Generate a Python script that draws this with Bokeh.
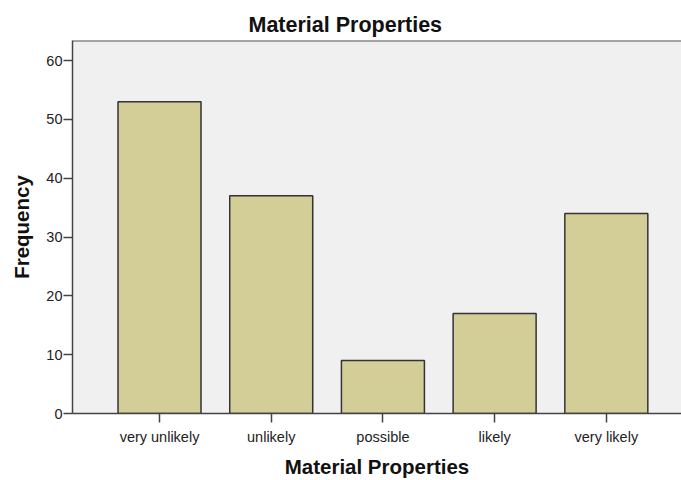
from bokeh.plotting import figure
from bokeh.models import FixedTicker, Range1d, ColumnDataSource, Span
from bokeh.embed import file_html
from bokeh.resources import INLINE

categories = ["very unlikely", "unlikely", "possible", "likely", "very likely"]
frequencies = [53, 37, 9, 17, 34]
y_ticks = [0, 10, 20, 30, 40, 50, 60]
y_max = 63.4

positions = list(range(len(categories)))
src = ColumnDataSource(data=dict(x=positions, top=frequencies))

p = figure(width=681, height=480, output_backend="svg", toolbar_location=None,
           x_range=Range1d(-0.779, 4.673), y_range=Range1d(0, y_max),
           min_border_left=72, min_border_top=40, min_border_bottom=66, min_border_right=0)

p.title.text = "Material Properties"
p.title.text_font = "Liberation Sans"
p.title.text_font_size = "21.5px"
p.title.text_font_style = "bold"
p.title.text_color = "#111111"
p.title.align = "left"
p.title.offset = 176
p.title.standoff = 8

p.background_fill_color = "#f0f0f0"
p.border_fill_color = "white"
p.outline_line_color = None
p.xgrid.visible = False
p.ygrid.visible = False

p.add_layout(Span(location=y_max, dimension="width", line_color="#555555", line_width=2))

p.vbar(x="x", top="top", bottom=0, width=0.743, source=src,
       fill_color="#d3ce97", line_color="#333333", line_width=1.5)

for ax in (p.xaxis[0], p.yaxis[0]):
    ax.axis_line_color = "#444444"
    ax.axis_line_width = 1.5
    ax.major_tick_line_color = "#444444"
    ax.major_tick_line_width = 1.5
    ax.major_tick_in = 0
    ax.major_tick_out = 9
    ax.minor_tick_line_color = None
    ax.major_label_text_font = "Liberation Sans"
    ax.major_label_text_font_size = "14.5px"
    ax.major_label_text_color = "#222222"
    ax.axis_label_text_font = "Liberation Sans"
    ax.axis_label_text_font_size = "20.5px"
    ax.axis_label_text_font_style = "bold"
    ax.axis_label_text_color = "#111111"

p.xaxis.ticker = FixedTicker(ticks=positions)
p.xaxis.major_label_overrides = {i: c for i, c in zip(positions, categories)}
p.xaxis.axis_label = "Material Properties"
p.xaxis.major_label_standoff = 6
p.xaxis.axis_label_standoff = 7

p.yaxis.ticker = FixedTicker(ticks=y_ticks)
p.yaxis.axis_label = "Frequency"
p.yaxis.major_label_standoff = 1
p.yaxis.axis_label_standoff = 10

open("out.html", "w").write(file_html(p, INLINE))
